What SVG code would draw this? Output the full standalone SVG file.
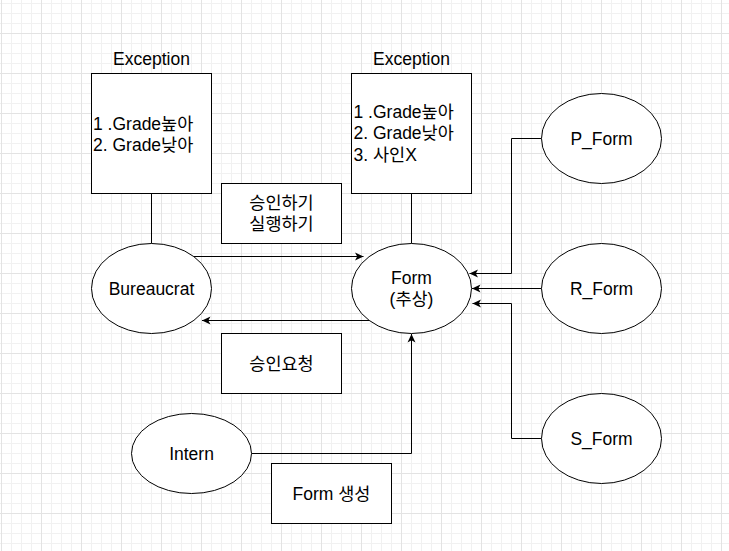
<svg xmlns="http://www.w3.org/2000/svg" width="729" height="551" viewBox="0 0 729 551">
<style>
  .shape { fill: #ffffff; stroke: #000000; stroke-width: 1; }
  .edge { fill: none; stroke: #000000; stroke-width: 1; }
  text { font-family: "Liberation Sans", Arial, "Noto Sans CJK KR", sans-serif; font-size: 17.5px; fill: #000000; }
  .c { text-anchor: middle; }
</style>
<defs>
  <pattern id="grid" patternUnits="userSpaceOnUse" x="1" y="33" width="40" height="40">
    <path d="M10.5,0 V40 M20.5,0 V40 M30.5,0 V40 M0,10.5 H40 M0,20.5 H40 M0,30.5 H40" fill="none" stroke="#f1f1f1" stroke-width="1"/>
    <path d="M0.5,0 V40 M0,0.5 H40" fill="none" stroke="#e3e3e3" stroke-width="1"/>
  </pattern>
  <marker id="arrow" markerUnits="userSpaceOnUse" viewBox="-10 -5 11 10" markerWidth="11" markerHeight="10" refX="0" refY="0" orient="auto">
    <path d="M0,0 L-8.5,-4 L-6.3,0 L-8.5,4 Z" fill="#000000"/>
  </marker>
</defs>
<rect x="0" y="0" width="729" height="551" fill="#ffffff"/>
<rect x="0" y="0" width="729" height="551" fill="url(#grid)"/>

<g id="connectors">
  <path class="edge" d="M151.5,193.5 V243.5"/>
  <path class="edge" d="M411.5,193.5 V243.5"/>
  <path class="edge" d="M194,256.5 H363.5" marker-end="url(#arrow)"/>
  <path class="edge" d="M369,320.5 H202" marker-end="url(#arrow)"/>
  <path class="edge" d="M251.5,453.5 H411.5 V334" marker-end="url(#arrow)"/>
  <path class="edge" d="M541.5,138.5 H511.5 V273.5 H469.5" marker-end="url(#arrow)"/>
  <path class="edge" d="M541.5,288.5 H472" marker-end="url(#arrow)"/>
  <path class="edge" d="M541.5,438.5 H511.5 V303.5 H472.5" marker-end="url(#arrow)"/>
</g>

<g id="exception-left">
  <text class="c" x="151.5" y="65">Exception</text>
  <rect class="shape" x="91.5" y="73.5" width="120" height="120"/>
  <text x="93" y="129.5">1 .Grade높아</text>
  <text x="93" y="151">2. Grade낮아</text>
</g>

<g id="exception-right">
  <text class="c" x="411.5" y="65">Exception</text>
  <rect class="shape" x="351.5" y="73.5" width="120" height="120"/>
  <text x="353.5" y="117.6">1 .Grade높아</text>
  <text x="353.5" y="139.2">2. Grade낮아</text>
  <text x="353.5" y="160.8">3. 사인X</text>
</g>

<g id="label-approve">
  <rect class="shape" x="221.5" y="183.5" width="120" height="60"/>
  <text class="c" x="281.5" y="208.5">승인하기</text>
  <text class="c" x="281.5" y="230.1">실행하기</text>
</g>

<g id="bureaucrat">
  <ellipse class="shape" cx="151.5" cy="288.5" rx="60" ry="45"/>
  <text class="c" x="151.5" y="294.8">Bureaucrat</text>
</g>

<g id="form">
  <ellipse class="shape" cx="411.5" cy="288.5" rx="60" ry="45"/>
  <text class="c" x="411.5" y="283.8">Form</text>
  <text class="c" x="411.5" y="305.4">(추상)</text>
</g>

<g id="p-form">
  <ellipse class="shape" cx="601.5" cy="138.5" rx="60" ry="45"/>
  <text class="c" x="601.5" y="144.8">P_Form</text>
</g>

<g id="r-form">
  <ellipse class="shape" cx="601.5" cy="288.5" rx="60" ry="45"/>
  <text class="c" x="601.5" y="294.8">R_Form</text>
</g>

<g id="s-form">
  <ellipse class="shape" cx="601.5" cy="438.5" rx="60" ry="45"/>
  <text class="c" x="601.5" y="444.8">S_Form</text>
</g>

<g id="label-request">
  <rect class="shape" x="221.5" y="333.5" width="120" height="60"/>
  <text class="c" x="281.5" y="369.6">승인요청</text>
</g>

<g id="intern">
  <ellipse class="shape" cx="191.5" cy="453.5" rx="60" ry="40"/>
  <text class="c" x="191.5" y="459.8">Intern</text>
</g>

<g id="label-create">
  <rect class="shape" x="271.5" y="463.5" width="120" height="60"/>
  <text class="c" x="331.5" y="499.6">Form 생성</text>
</g>
</svg>
